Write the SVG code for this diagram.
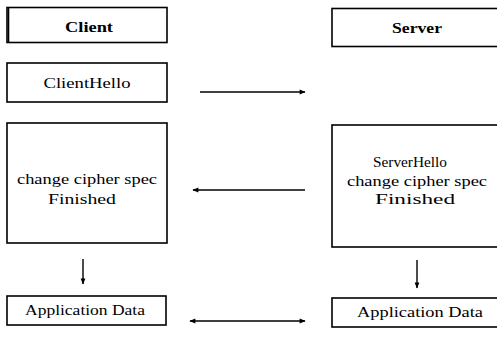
<svg xmlns="http://www.w3.org/2000/svg" width="497" height="337" viewBox="0 0 497 337">
<defs>
<style>
.box{fill:#fff;stroke:#000;stroke-width:1.6}
text{font-size:14px;fill:#000;text-anchor:middle}
.b{font-weight:bold}
.c{stroke:#000;stroke-width:1.4;fill:none}
</style>
<marker id="ah" viewBox="0 0 10 10" refX="9" refY="5" markerWidth="7" markerHeight="6" orient="auto-start-reverse" markerUnits="userSpaceOnUse">
<path d="M0,1 L10,5 L0,9 Z" fill="#000"/>
</marker>
</defs>
<rect width="497" height="337" fill="#fff"/>
<g font-family="Liberation Serif, serif">
<g id="client">
<rect class="box" x="7" y="7.5" width="160" height="35"/>
<line x1="8.5" y1="7.5" x2="8.5" y2="42.5" stroke="#000" stroke-width="1.6"/>
<text class="b" x="89" y="32" textLength="48" lengthAdjust="spacingAndGlyphs">Client</text>
</g>
<g id="server">
<rect class="box" x="332" y="8.5" width="170" height="38"/>
<text class="b" x="417" y="33" textLength="50" lengthAdjust="spacingAndGlyphs">Server</text>
</g>
<g id="clienthello">
<rect class="box" x="7" y="63" width="160" height="39"/>
<text x="87" y="88" textLength="87" lengthAdjust="spacingAndGlyphs">ClientHello</text>
</g>
<g id="client-finished">
<rect class="box" x="7" y="123" width="160" height="120"/>
<text x="87" y="184" textLength="140" lengthAdjust="spacingAndGlyphs">change cipher spec</text>
<text x="82" y="204" textLength="68" lengthAdjust="spacingAndGlyphs">Finished</text>
</g>
<g id="server-hello">
<rect class="box" x="332" y="125" width="170" height="122"/>
<text x="410" y="167" textLength="74" lengthAdjust="spacingAndGlyphs">ServerHello</text>
<text x="417" y="186" textLength="140" lengthAdjust="spacingAndGlyphs">change cipher spec</text>
<text x="415" y="204" textLength="80" lengthAdjust="spacingAndGlyphs">Finished</text>
</g>
<g id="client-appdata">
<rect class="box" x="7" y="296" width="159" height="29"/>
<text x="85" y="315" textLength="120" lengthAdjust="spacingAndGlyphs">Application Data</text>
</g>
<g id="server-appdata">
<rect class="box" x="332" y="298" width="170" height="29"/>
<text x="420" y="317" textLength="126" lengthAdjust="spacingAndGlyphs">Application Data</text>
</g>
</g>
<g id="connectors">
<line class="c" x1="200" y1="92" x2="305" y2="92" marker-end="url(#ah)"/>
<line class="c" x1="305" y1="190" x2="193" y2="190" marker-end="url(#ah)"/>
<line class="c" x1="83" y1="259" x2="83" y2="284" marker-end="url(#ah)"/>
<line class="c" x1="417" y1="260" x2="417" y2="288" marker-end="url(#ah)"/>
<line class="c" x1="190" y1="321" x2="305" y2="321" marker-start="url(#ah)" marker-end="url(#ah)"/>
</g>
</svg>
